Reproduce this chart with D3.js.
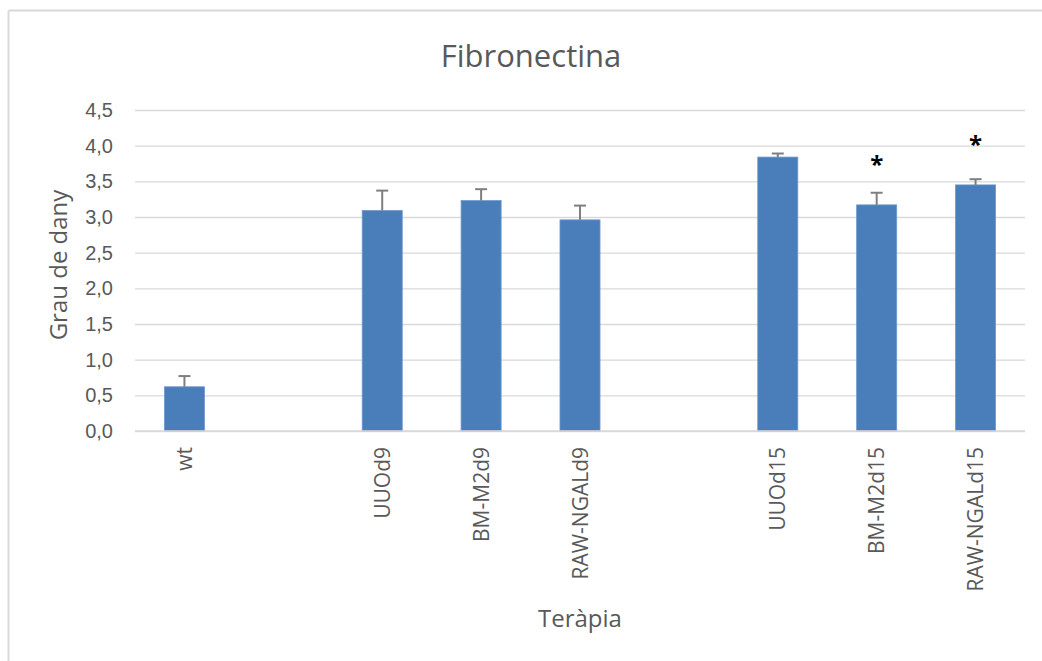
<!DOCTYPE html>
<html>
<head>
<meta charset="utf-8">
<script src="https://cdn.jsdelivr.net/npm/d3@7"></script>
<style>
  html, body { margin: 0; padding: 0; background: #fff; }
  svg { display: block; font-family: "Open Sans", "Noto Sans", sans-serif; }
</style>
</head>
<body>
<svg id="chart" width="1042" height="661"></svg>
<script>
// Categories (empty slots keep the gaps between treatment groups)
const categories = ["wt", "gap1", "UUOd9", "BM-M2d9", "RAW-NGALd9", "gap2", "UUOd15", "BM-M2d15", "RAW-NGALd15"];
const labels     = ["wt", "", "UUOd9", "BM-M2d9", "RAW-NGALd9", "", "UUOd15", "BM-M2d15", "RAW-NGALd15"];
const values     = [0.62, null, 3.09, 3.23, 2.96, null, 3.84, 3.17, 3.45];
const errors     = [0.15, null, 0.28, 0.16, 0.20, null, 0.05, 0.17, 0.08];
// Height (in axis units) of the significance asterisk, null where none
const starLevel  = [null, null, null, null, null, null, null, 3.80, 4.08];
const yTicks     = [0, 0.5, 1, 1.5, 2, 2.5, 3, 3.5, 4, 4.5];

const svg = d3.select("#chart");
const W = 1042, H = 661;
const plot = { left: 135, right: 1025, top: 110, bottom: 431 };
const grey = "#595959";

// Outer chart frame (top and left edges)
svg.append("line").attr("x1", 8.5).attr("x2", W).attr("y1", 10.5).attr("y2", 10.5)
  .attr("stroke", "#d9d9d9").attr("stroke-width", 2);
svg.append("line").attr("x1", 8.5).attr("x2", 8.5).attr("y1", 10.5).attr("y2", H)
  .attr("stroke", "#d9d9d9").attr("stroke-width", 2);

const x = d3.scaleBand().domain(categories).range([plot.left, plot.right]).paddingInner(0.595).paddingOuter(0.2975);
const y = d3.scaleLinear().domain([0, 4.5]).range([plot.bottom, plot.top]);

// Horizontal gridlines + tick labels
const yAxis = d3.axisLeft(y).tickValues(yTicks)
  .tickSize(-(plot.right - plot.left))
  .tickPadding(22)
  .tickFormat(d => d3.format(".1f")(d).replace(".", ","));
const gy = svg.append("g").attr("transform", `translate(${plot.left},0)`).call(yAxis);
gy.select(".domain").remove();
gy.selectAll(".tick line").attr("stroke", "#d9d9d9").attr("stroke-width", 1.3);
gy.selectAll(".tick text").attr("fill", grey).attr("font-size", 20);

// Bars
const data = categories.map((c, i) => ({ c, label: labels[i], v: values[i], e: errors[i], star: starLevel[i] }))
  .filter(d => d.v !== null);

svg.append("g").selectAll("rect").data(data).join("rect")
  .attr("x", d => x(d.c))
  .attr("width", x.bandwidth())
  .attr("y", d => y(d.v))
  .attr("height", d => y(0) - y(d.v))
  .attr("fill", "#4a7ebb")
  .attr("stroke", "#6f97cc").attr("stroke-width", 0.8);

// Error bars (upper only)
const eb = svg.append("g").attr("stroke", "#7f7f7f").attr("stroke-width", 2);
data.forEach(d => {
  const cx = x(d.c) + x.bandwidth() / 2;
  eb.append("line").attr("x1", cx).attr("x2", cx).attr("y1", y(d.v)).attr("y2", y(d.v + d.e));
  eb.append("line").attr("x1", cx - 6).attr("x2", cx + 6).attr("y1", y(d.v + d.e)).attr("y2", y(d.v + d.e));
});

// Significance marks
svg.append("g").selectAll("text").data(data.filter(d => d.star !== null)).join("text")
  .attr("x", d => x(d.c) + x.bandwidth() / 2)
  .attr("y", d => y(d.star) + 13.5)
  .attr("text-anchor", "middle")
  .attr("font-size", 24).attr("font-weight", "bold").attr("fill", "#000")
  .text("*");

// Baseline
svg.append("line").attr("x1", plot.left).attr("x2", plot.right)
  .attr("y1", y(0)).attr("y2", y(0)).attr("stroke", "#d9d9d9").attr("stroke-width", 1.3);

// Rotated category labels
svg.append("g").selectAll("text").data(data).join("text")
  .attr("transform", d => `translate(${x(d.c) + x.bandwidth() / 2 + 7.5},447) rotate(-90)`)
  .attr("text-anchor", "end")
  .attr("font-size", 21).attr("fill", grey)
  .text(d => d.label);

// Title
svg.append("text").attr("x", 531).attr("y", 67).attr("text-anchor", "middle")
  .attr("font-size", 31).attr("fill", grey).text("Fibronectina");

// Axis titles
svg.append("text").attr("transform", "translate(67,265) rotate(-90)").attr("text-anchor", "middle")
  .attr("font-size", 24).attr("fill", grey).text("Grau de dany");
svg.append("text").attr("x", 580).attr("y", 627).attr("text-anchor", "middle")
  .attr("font-size", 24).attr("fill", grey).text("Teràpia");
</script>
</body>
</html>
